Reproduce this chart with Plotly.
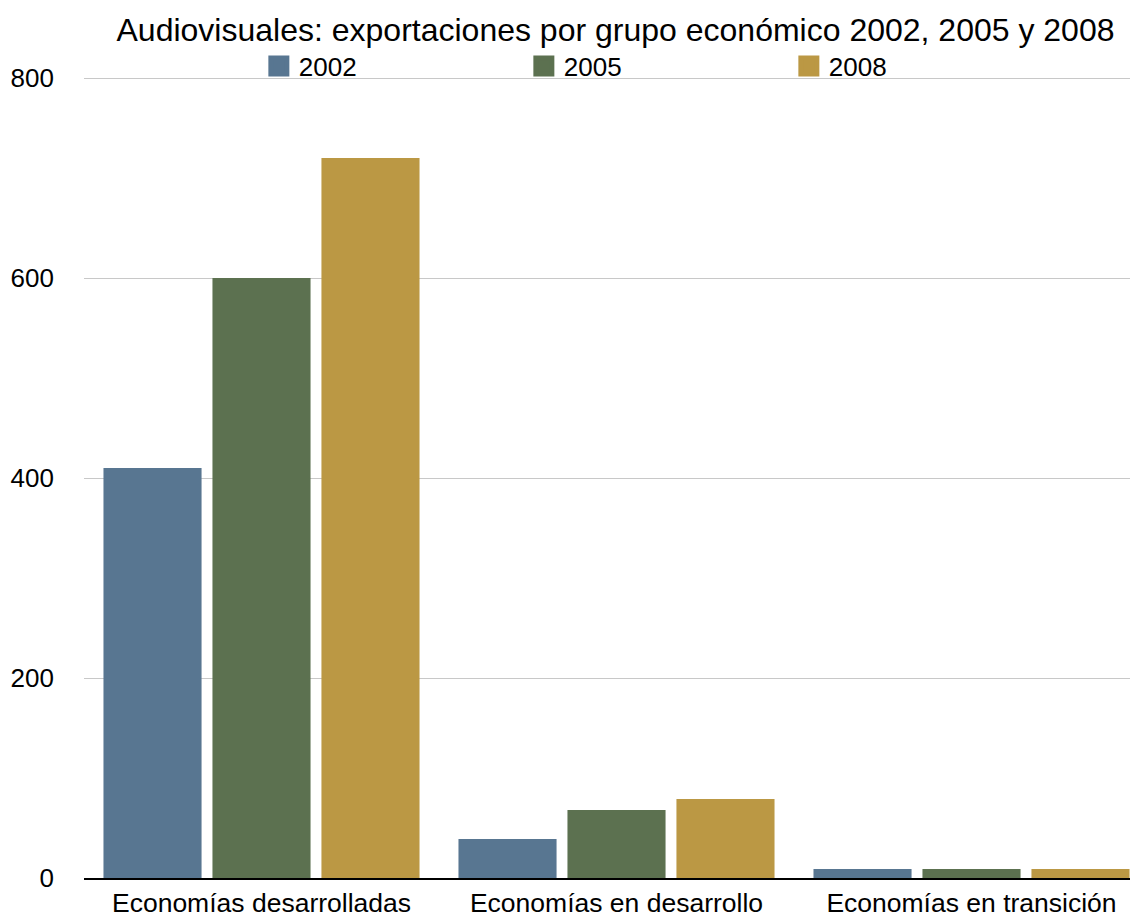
import plotly.graph_objects as go

categories = ["Economías desarrolladas", "Economías en desarrollo", "Economías en transición"]
years = ["2002", "2005", "2008"]
values_2002 = [410, 39, 9]
values_2005 = [600, 68, 9]
values_2008 = [720, 79, 9]
colors = ["#587691", "#5c7150", "#bb9844"]
y_ticks = [0, 200, 400, 600, 800]

fig = go.Figure()
for name, vals, col in zip(years, [values_2002, values_2005, values_2008], colors):
    fig.add_trace(go.Bar(name=name, x=categories, y=vals, showlegend=False,
                         marker=dict(color=col, line=dict(width=0))))
# legend entries with larger square swatches
for name, col in zip(years, colors):
    fig.add_trace(go.Scatter(name=name, x=[None], y=[None], mode="markers",
                             marker=dict(symbol="square", size=16, color=col,
                                         line=dict(width=6, color=col))))

fig.update_layout(
    width=1130, height=910,
    paper_bgcolor="white", plot_bgcolor="white",
    font=dict(family="Liberation Sans, Arial, sans-serif", size=26, color="black"),
    margin=dict(l=76, r=0, t=67, b=40, autoexpand=False),
    barmode="group", bargap=0.079, bargroupgap=0.1,
    title=dict(text="Audiovisuales: exportaciones por grupo económico 2002, 2005 y 2008",
               x=607.5 / 1130, xanchor="center", xref="container",
               y=1 - 22 / 910, yref="container", yanchor="middle",
               font=dict(size=32, color="black")),
    legend=dict(orientation="h", xref="container", x=0.222, xanchor="left",
                yref="container", y=1 - 58 / 910, yanchor="middle",
                entrywidth=220, entrywidthmode="pixels", font=dict(size=26),
                bgcolor="rgba(0,0,0,0)", itemsizing="trace"),
    showlegend=True,
)
fig.update_xaxes(range=[-0.5, 2.469], showline=True, linecolor="black", linewidth=2,
                 ticks="", showgrid=False, tickfont=dict(size=26.5))
fig.update_yaxes(range=[0, 803], tickvals=y_ticks, showgrid=True, gridcolor="#c8c8c8",
                 gridwidth=1, zeroline=False, ticks="", ticklabelstandoff=29,
                 tickfont=dict(size=26), showline=False)

fig.write_html("out.html")
